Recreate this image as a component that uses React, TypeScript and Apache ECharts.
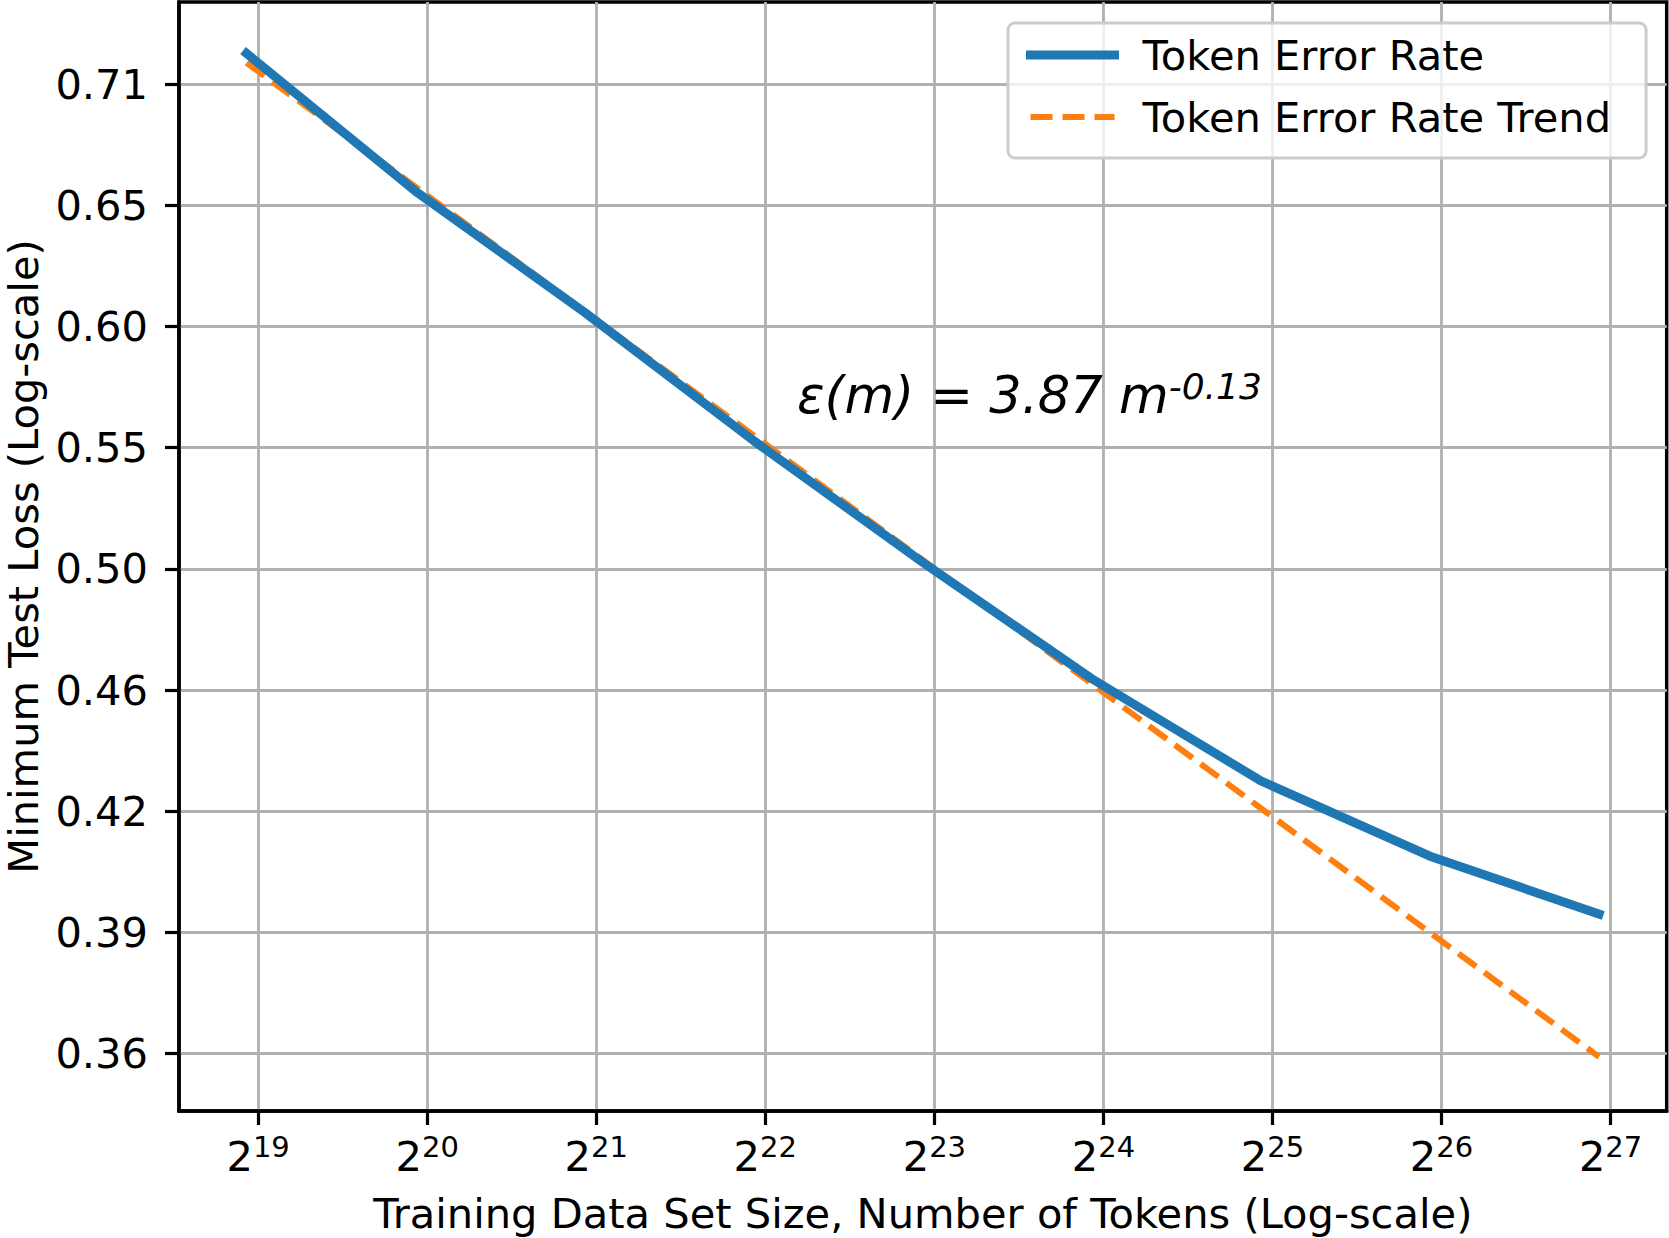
import { useEffect, useRef } from 'react'
import * as echarts from 'echarts'

const FONT = 'DejaVu Sans'

// training set sizes (tokens) and the two curves
const tokens = [500000, 1000000, 2000000, 4000000, 8000000, 16000000, 32000000, 64000000, 128000000]
const errorRate = [0.725, 0.6575, 0.6035, 0.551, 0.5055, 0.4655, 0.433, 0.4105, 0.394]
const errorTrend = [0.7202, 0.6596, 0.6039, 0.5531, 0.5064, 0.4638, 0.4247, 0.3889, 0.3561]

// axis ticks: x as powers of two, y as log-spaced losses
const xTickExponents = [19, 20, 21, 22, 23, 24, 25, 26, 27]
const yTickValues = [0.357, 0.389, 0.4238, 0.4618, 0.5032, 0.5483, 0.5974, 0.651, 0.7093]
const yTickLabels = ['0.36', '0.39', '0.42', '0.46', '0.50', '0.55', '0.60', '0.65', '0.71']

const X_MIN_EXP = 18.532
const X_MAX_EXP = 27.332
const Y_MIN = 0.3427
const Y_MAX = 0.7519

const BLUE = '#1f77b4'
const ORANGE = '#ff7f0e'

export default function App() {
  const ref = useRef<HTMLDivElement>(null)

  useEffect(() => {
    if (!ref.current) {
      return
    }
    const chart = echarts.init(ref.current, undefined, { renderer: 'svg' })
    const yTickLogs = yTickValues.map((v) => Math.log(v))
    const toPoints = (vals: number[]) => tokens.map((t, i) => [Math.log2(t), Math.log(vals[i])])

    const axisText = { fontFamily: FONT, fontSize: 41.6, color: '#000' }
    const nameText = { ...axisText, lineHeight: 40 }

    chart.setOption({
      animation: false,
      backgroundColor: '#fff',
      grid: {
        left: 179,
        right: 2.3,
        top: 2,
        bottom: 127,
        outerBoundsMode: 'none',
        containLabel: false,
        show: true,
        borderColor: '#000',
        borderWidth: 3.5,
        backgroundColor: 'transparent',
      },
      legend: {
        orient: 'vertical',
        left: 1008,
        top: 23,
        itemWidth: 84,
        itemHeight: 40,
        itemGap: 20,
        padding: [11, 35, 20, 18],
        backgroundColor: 'rgba(255,255,255,0.8)',
        borderColor: '#cccccc',
        borderWidth: 3,
        borderRadius: 7,
        selectedMode: false,
        itemStyle: { color: 'transparent', borderColor: 'transparent', borderWidth: 0 },
        textStyle: { ...axisText, lineHeight: 40, padding: [0, 0, 0, 23] },
        data: [
          { name: 'Token Error Rate', lineStyle: { width: 9 } },
          { name: 'Token Error Rate Trend', lineStyle: { width: 6 } },
        ],
      },
      xAxis: [
        {
          type: 'value',
          min: X_MIN_EXP,
          max: X_MAX_EXP,
          name: 'Training Data Set Size, Number of Tokens (Log-scale)',
          nameLocation: 'middle',
          nameGap: 82,
          nameTextStyle: nameText,
          axisLine: { show: true, lineStyle: { color: '#000', width: 3.5 } },
          axisTick: {
            show: true,
            length: 14,
            customValues: xTickExponents,
            lineStyle: { color: '#000', width: 3.2 },
          },
          axisLabel: {
            margin: 21,
            customValues: xTickExponents,
            formatter: (v: number) => `{b|2}{s|${Math.round(v)}}`,
            rich: {
              b: { fontFamily: FONT, fontSize: 41.6, lineHeight: 48, color: '#000' },
              s: { fontFamily: FONT, fontSize: 29, lineHeight: 28, verticalAlign: 'top', color: '#000' },
            },
          },
          splitLine: { show: true, lineStyle: { color: '#b0b0b0', width: 2.8 } },
        },
      ],
      yAxis: [
        {
          type: 'value',
          min: Math.log(Y_MIN),
          max: Math.log(Y_MAX),
          name: 'Minimum Test Loss (Log-scale)',
          nameLocation: 'middle',
          nameGap: 134,
          nameTextStyle: nameText,
          axisLine: { show: true, lineStyle: { color: '#000', width: 3.5 } },
          axisTick: {
            show: true,
            length: 14,
            customValues: yTickLogs,
            lineStyle: { color: '#000', width: 3.2 },
          },
          axisLabel: {
            ...axisText,
            margin: 31,
            customValues: yTickLogs,
            formatter: (v: number) => {
              const i = yTickLogs.findIndex((t) => Math.abs(t - v) < 1e-6)
              return i >= 0 ? yTickLabels[i] : ''
            },
          },
          splitLine: { show: true, lineStyle: { color: '#b0b0b0', width: 2.8 } },
        },
      ],
      graphic: [
        {
          type: 'text',
          x: 797,
          y: 368,
          z: 10,
          style: {
            text: '{a|ε(m) = 3.87 m}{b|-0.13}',
            verticalAlign: 'top',
            rich: {
              a: { fontFamily: FONT, fontStyle: 'italic', fontSize: 51, lineHeight: 55, fill: '#000' },
              b: {
                fontFamily: FONT,
                fontStyle: 'italic',
                fontSize: 36,
                lineHeight: 28,
                verticalAlign: 'top',
                fill: '#000',
              },
            },
          },
        },
      ],
      series: [
        {
          name: 'Token Error Rate Trend',
          type: 'line',
          symbol: 'none',
          data: toPoints(errorTrend),
          lineStyle: { color: ORANGE, width: 6, type: [22, 10], cap: 'butt' },
          itemStyle: { color: ORANGE },
        },
        {
          name: 'Token Error Rate',
          type: 'line',
          symbol: 'none',
          data: toPoints(errorRate),
          lineStyle: { color: BLUE, width: 9, cap: 'square', join: 'round' },
          itemStyle: { color: BLUE },
        },
      ],
    })

    return () => {
      chart.dispose()
    }
  }, [])

  return (
    <div
      ref={ref}
      style={{ position: 'absolute', left: 0, top: 0, width: 1669, height: 1238 }}
    />
  )
}
